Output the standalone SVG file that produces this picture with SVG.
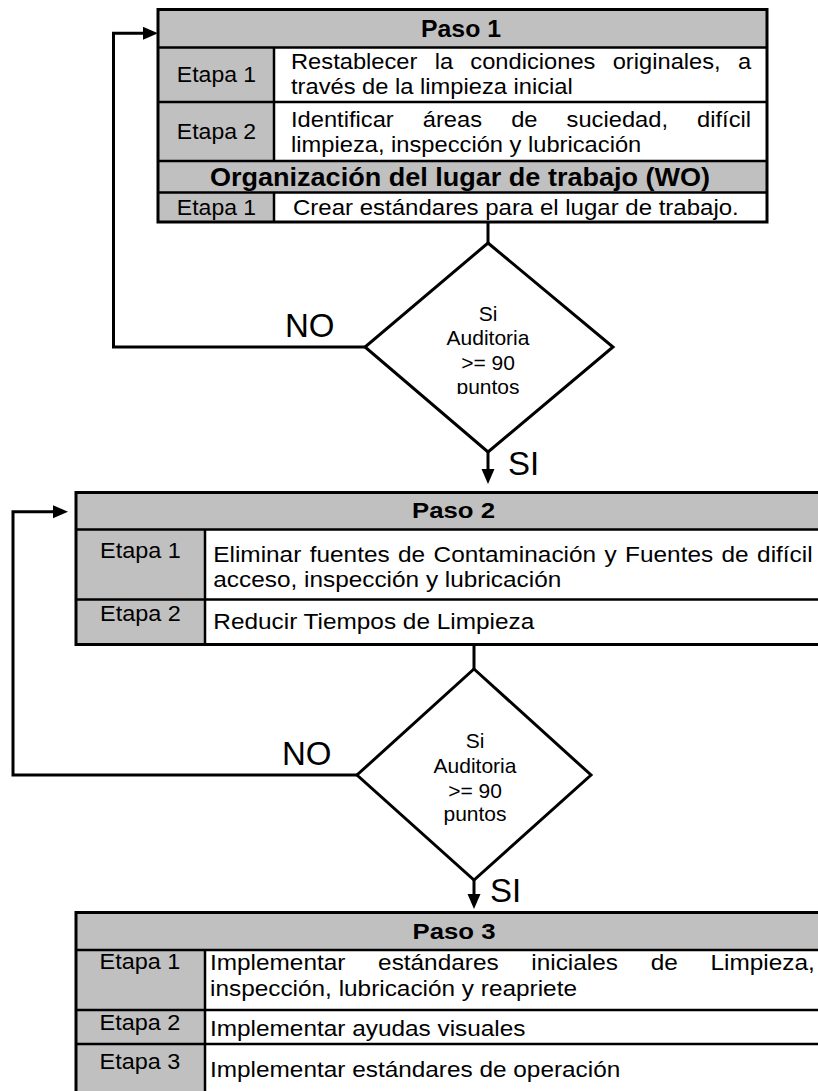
<svg xmlns="http://www.w3.org/2000/svg" width="818" height="1091" viewBox="0 0 818 1091">
  <style>
    text { font-family: "Liberation Sans", Arial, Helvetica, sans-serif; fill: #000; }
    .t { font-size: 22px; }
    .h { font-size: 23px; font-weight: bold; }
    .wo { font-size: 26px; font-weight: bold; }
    .c { text-anchor: middle; }
    .dt { font-size: 21px; text-anchor: middle; }
    .lbl { font-size: 33px; }
    .gray { fill: #c0c0c0; }
    .white { fill: #fff; }
    .grid { stroke: #000; stroke-width: 2.5; fill: none; }
    .frame { stroke: #000; stroke-width: 3; fill: none; }
    .dia { stroke: #000; stroke-width: 3; fill: #fff; stroke-linejoin: miter; }
    .conn { stroke: #000; stroke-width: 3; fill: none; stroke-linejoin: miter; }
  </style>
  <defs>
    <marker id="head" markerUnits="userSpaceOnUse" markerWidth="16" markerHeight="14" refX="5" refY="6.5" orient="auto">
      <path d="M0,0 L15,6.5 L0,13 Z" fill="#000"/>
    </marker>
    <clipPath id="clipDia1">
      <rect x="420" y="290" width="140" height="104"/>
    </clipPath>
  </defs>

  <!-- Paso 1 table -->
  <g id="paso1">
    <rect class="white" x="158" y="9.5" width="609" height="212.5"/>
    <rect class="gray" x="158" y="9.5" width="609" height="38"/>
    <rect class="gray" x="158" y="47.5" width="116" height="113.5"/>
    <rect class="gray" x="158" y="161" width="609" height="31.5"/>
    <rect class="gray" x="158" y="192.5" width="116" height="29.5"/>
    <path class="grid" d="M158,47.5 H767 M158,102 H767 M158,161 H767 M158,192.5 H767 M274,47.5 V161 M274,192.5 V222"/>
    <rect class="frame" x="158" y="9.5" width="609" height="212.5"/>
    <text class="h c" transform="translate(461,37) scale(1.08 1)">Paso 1</text>
    <text class="t c" transform="translate(216.5,82) scale(1.045 1)">Etapa 1</text>
    <text class="t" transform="translate(291,69) scale(1.077 1)" word-spacing="9.9">Restablecer la condiciones originales, a</text>
    <text class="t" transform="translate(291,94) scale(1.077 1)">través de la limpieza inicial</text>
    <text class="t c" transform="translate(216.5,139) scale(1.045 1)">Etapa 2</text>
    <text class="t" transform="translate(291,127) scale(1.077 1)" word-spacing="20.9">Identificar áreas de suciedad, difícil</text>
    <text class="t" transform="translate(291,152) scale(1.077 1)">limpieza, inspección y lubricación</text>
    <text class="wo c" transform="translate(460,186) scale(1.04 1)">Organización del lugar de trabajo (WO)</text>
    <text class="t c" transform="translate(216.5,215) scale(1.045 1)">Etapa 1</text>
    <text class="t" transform="translate(293,215) scale(1.0925 1)">Crear estándares para el lugar de trabajo.</text>
  </g>

  <!-- First audit decision -->
  <g id="decision1">
    <polygon class="dia" points="488,243 613,347 488,452 365,347"/>
    <g clip-path="url(#clipDia1)">
      <text class="dt" x="488" y="321">Si</text>
      <text class="dt" x="488" y="345">Auditoria</text>
      <text class="dt" x="488" y="370">&gt;= 90</text>
      <text class="dt" x="488" y="394">puntos</text>
    </g>
  </g>

  <!-- Paso 2 table -->
  <g id="paso2">
    <rect class="white" x="76" y="492.5" width="760" height="152"/>
    <rect class="gray" x="76" y="492.5" width="760" height="37"/>
    <rect class="gray" x="76" y="529.5" width="129" height="115"/>
    <path class="grid" d="M76,529.5 H836 M76,599.5 H836 M205,529.5 V644.5"/>
    <rect class="frame" x="76" y="492.5" width="760" height="152"/>
    <text class="h c" transform="translate(453.5,518) scale(1.12 1)">Paso 2</text>
    <text class="t c" transform="translate(140.5,558) scale(1.066 1)">Etapa 1</text>
    <text class="t" transform="translate(213.3,562) scale(1.108 1)" word-spacing="1.5">Eliminar fuentes de Contaminación y Fuentes de difícil</text>
    <text class="t" transform="translate(213.3,587) scale(1.108 1)">acceso, inspección y lubricación</text>
    <text class="t c" transform="translate(140.5,621) scale(1.066 1)">Etapa 2</text>
    <text class="t" transform="translate(213.3,629) scale(1.108 1)">Reducir Tiempos de Limpieza</text>
  </g>

  <!-- Second audit decision -->
  <g id="decision2">
    <polygon class="dia" points="474,669 591,775 474,880 357,775"/>
    <text class="dt" x="475" y="748">Si</text>
    <text class="dt" x="475" y="773">Auditoria</text>
    <text class="dt" x="475" y="798">&gt;= 90</text>
    <text class="dt" x="475" y="821">puntos</text>
  </g>

  <!-- Paso 3 table -->
  <g id="paso3">
    <rect class="white" x="76" y="912.5" width="760" height="190"/>
    <rect class="gray" x="76" y="912.5" width="760" height="37.5"/>
    <rect class="gray" x="76" y="950" width="129" height="152"/>
    <path class="grid" d="M76,950 H836 M76,1010 H836 M76,1044 H836 M205,950 V1100"/>
    <rect class="frame" x="76" y="912.5" width="760" height="190"/>
    <text class="h c" transform="translate(454,939) scale(1.12 1)">Paso 3</text>
    <text class="t c" transform="translate(140,969) scale(1.066 1)">Etapa 1</text>
    <text class="t" transform="translate(210,970) scale(1.108 1)" word-spacing="23.4">Implementar estándares iniciales de Limpieza,</text>
    <text class="t" transform="translate(210,996) scale(1.108 1)">inspección, lubricación y reapriete</text>
    <text class="t c" transform="translate(140,1030) scale(1.066 1)">Etapa 2</text>
    <text class="t" transform="translate(210,1036) scale(1.108 1)">Implementar ayudas visuales</text>
    <text class="t c" transform="translate(140,1069) scale(1.066 1)">Etapa 3</text>
    <text class="t" transform="translate(210,1077) scale(1.108 1)">Implementar estándares de operación</text>
  </g>

  <!-- Connectors -->
  <g id="connectors">
    <path class="conn" d="M488,222 V243"/>
    <path class="conn" d="M365,347 H113.5 V33.3 H148" marker-end="url(#head)"/>
    <path class="conn" d="M488,452 V474" marker-end="url(#head)"/>
    <path class="conn" d="M474,644.5 V669"/>
    <path class="conn" d="M357,775 H13 V511.7 H58" marker-end="url(#head)"/>
    <path class="conn" d="M474,880 V899" marker-end="url(#head)"/>
    <text class="lbl" x="285" y="337">NO</text>
    <text class="lbl" x="508" y="475">SI</text>
    <text class="lbl" x="282" y="765">NO</text>
    <text class="lbl" x="490" y="902">SI</text>
  </g>
</svg>
